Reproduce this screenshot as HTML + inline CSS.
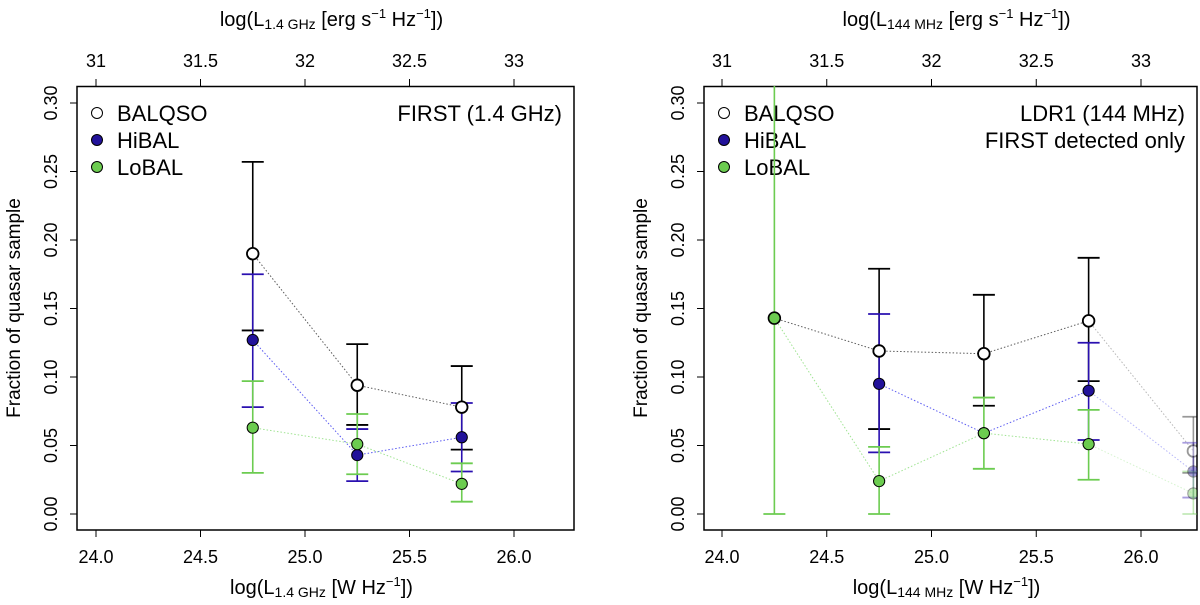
<!DOCTYPE html>
<html><head><meta charset="utf-8"><style>
body{margin:0;background:#fff}
svg{font-family:"Liberation Sans",sans-serif}
</style></head><body>
<svg id="c" width="1200" height="600"></svg>
<script>
const leftX=[24.75,25.25,25.75];
const leftBAL=[0.190,0.094,0.078], leftBALlo=[0.134,0.065,0.047], leftBALhi=[0.257,0.124,0.108];
const leftHi=[0.127,0.043,0.056], leftHilo=[0.078,0.024,0.031], leftHihi=[0.175,0.062,0.081];
const leftLo=[0.063,0.051,0.022], leftLolo=[0.030,0.029,0.009], leftLohi=[0.097,0.073,0.037];
const rightX=[24.25,24.75,25.25,25.75,26.25];
const rightBAL=[0.143,0.119,0.117,0.141,0.046], rightBALlo=[null,0.062,0.079,0.097,0.030], rightBALhi=[null,0.179,0.160,0.187,0.071];
const rightHi=[null,0.095,0.059,0.090,0.031], rightHilo=[null,0.045,null,0.054,0.012], rightHihi=[null,0.146,null,0.125,0.052];
const rightLo=[0.143,0.024,0.059,0.051,0.015], rightLolo=[0,0,0.033,0.025,0], rightLohi=[0.35,0.049,0.085,0.076,0.031];
const bottomTicks=["24.0","24.5","25.0","25.5","26.0"];
const topTicks=["31","31.5","32","32.5","33"];
const yTicks=["0.00","0.05","0.10","0.15","0.20","0.25","0.30"];

const svg=document.getElementById('c');
const NS='http://www.w3.org/2000/svg';
function mk(t,a,p){const e=document.createElementNS(NS,t);for(const k in a)e.setAttribute(k,a[k]);(p||svg).appendChild(e);return e;}
const yS=v=>514-v/0.30*411;
const C={bal:'#000',hi:'#22129a',lo:'#6ccc50',hiF:'#2a10b0'};

function panel(id,x0,x1,box,ptitle,subsc,X,series){
  const g=mk('g',{});
  
  
  const xS=v=>x0+(v-24)*(x1-x0)/2;
  const clipId=id+'-clip';
  const cp=mk('clipPath',{id:clipId},g);mk('rect',{x:box[0],y:86,width:box[1]-box[0],height:444},cp);
  const fr=mk('rect',{x:box[0],y:86.5,width:box[1]-box[0],height:443.5,fill:'none',stroke:'#000','stroke-width':1.5},g);
  
  bottomTicks.forEach((t,i)=>{const x=xS(24+i*0.5);
    mk('line',{x1:x,x2:x,y1:530,y2:537,stroke:'#000'},g);
    const tx=mk('text',{x:x,y:563,'font-size':18,'text-anchor':'middle'},g);tx.textContent=t;
    
    mk('line',{x1:x,x2:x,y1:86,y2:79,stroke:'#000'},g);
    const tt=mk('text',{x:x,y:67,'font-size':18,'text-anchor':'middle'},g);tt.textContent=topTicks[i];
    
  });
  yTicks.forEach((t,i)=>{const y=yS(i*0.05);
    mk('line',{x1:box[0],x2:box[0]-7,y1:y,y2:y,stroke:'#000'},g);
    const tx=mk('text',{x:0,y:0,'font-size':18,'text-anchor':'middle',transform:`translate(${box[0]-20},${y}) rotate(-90)`},g);tx.textContent=t;
    
  });
  const yt=mk('text',{x:0,y:0,'font-size':19,'text-anchor':'middle',transform:`translate(${box[0]-57},308) rotate(-90)`},g);
  yt.textContent='Fraction of quasar sample';
  const cx=(box[0]+box[1])/2-4;
  const xt=mk('text',{x:cx,y:594,'font-size':20,'text-anchor':'middle'},g);
  xt.innerHTML=`log(L<tspan font-size="14" dy="3">${subsc}</tspan><tspan dy="-3"> [W Hz</tspan><tspan font-size="13" dy="-8">−1</tspan><tspan dy="8">])</tspan>`;
  
  const tt=mk('text',{x:cx+10,y:26,'font-size':20,'text-anchor':'middle'},g);
  tt.innerHTML=`log(L<tspan font-size="14" dy="3">${subsc}</tspan><tspan dy="-3"> [erg s</tspan><tspan font-size="13" dy="-8">−1</tspan><tspan dy="8"> Hz</tspan><tspan font-size="13" dy="-8">−1</tspan><tspan dy="8">])</tspan>`;
  
  ptitle.forEach((s,i)=>{const t=mk('text',{x:box[1]-12,y:121+i*27,'font-size':22,'text-anchor':'end'},g);t.textContent=s;
    });
  const leg=[['BALQSO','#fff'],['HiBAL',C.hi],['LoBAL',C.lo]];
  leg.forEach((l,i)=>{const y=113+i*27;
    const c=mk('circle',{cx:box[0]+20,cy:y,r:5.5,fill:l[1],stroke:'#000','stroke-width':1},g);
    
    const t=mk('text',{x:box[0]+40,y:y+8,'font-size':22},g);t.textContent=l[0];
    });
  const pg=mk('g',{'clip-path':`url(#${clipId})`},g);
  series.forEach(s=>{
    const sg=mk('g',{},pg);
    
    for(let i=0;i<X.length-1;i++){if(s.v[i]==null||s.v[i+1]==null)continue;
      mk('line',{x1:xS(X[i]),y1:yS(s.v[i]),x2:xS(X[i+1]),y2:yS(s.v[i+1]),stroke:s.line,'stroke-width':1,'stroke-dasharray':'1.5 2',opacity:s.fade&&i==X.length-2?0.35:0.8},sg);}
    for(let i=0;i<X.length;i++){ if(s.lo[i]==null)continue;
      const x=xS(X[i]),op=s.fade&&i==X.length-1?0.4:1;
      mk('line',{x1:x,x2:x,y1:yS(s.lo[i]),y2:yS(s.hi[i]),stroke:s.eb,'stroke-width':1.6,opacity:op},sg);
      [s.lo[i],s.hi[i]].forEach(v=>mk('line',{x1:x-11,x2:x+11,y1:yS(v),y2:yS(v),stroke:s.eb,'stroke-width':1.8,opacity:op},sg));
    }
  });
  series.forEach(s=>{
    for(let i=0;i<X.length;i++){ if(s.v[i]==null)continue;
      const op=s.fade&&i==X.length-1?0.4:1;
      const c=mk('circle',{cx:xS(X[i]),cy:yS(s.v[i]),r:s.name=='balqso'?5.8:5.6,fill:s.fill,stroke:'#000','stroke-width':s.name=='balqso'?1.8:1,opacity:op},pg);
      
    }
  });
}
panel('left-panel',96,514,[77,574],['FIRST (1.4 GHz)'],'1.4 GHz',leftX,[
 {name:'balqso',v:leftBAL,lo:leftBALlo,hi:leftBALhi,fill:'#fff',line:'#333',eb:'#000'},
 {name:'hibal',v:leftHi,lo:leftHilo,hi:leftHihi,fill:C.hi,line:'#3333ee',eb:C.hiF},
 {name:'lobal',v:leftLo,lo:leftLolo,hi:leftLohi,fill:C.lo,line:'#88dd77',eb:C.lo}]);
panel('right-panel',722,1141,[704,1197],['LDR1 (144 MHz)','FIRST detected only'],'144 MHz',rightX,[
 {name:'balqso',v:rightBAL,lo:rightBALlo,hi:rightBALhi,fill:'#fff',line:'#333',eb:'#000',fade:1},
 {name:'hibal',v:rightHi,lo:rightHilo,hi:rightHihi,fill:C.hi,line:'#3333ee',eb:C.hiF,fade:1},
 {name:'lobal',v:rightLo,lo:rightLolo,hi:rightLohi,fill:C.lo,line:'#88dd77',eb:C.lo,fade:1}]);
</script>
</body></html>
